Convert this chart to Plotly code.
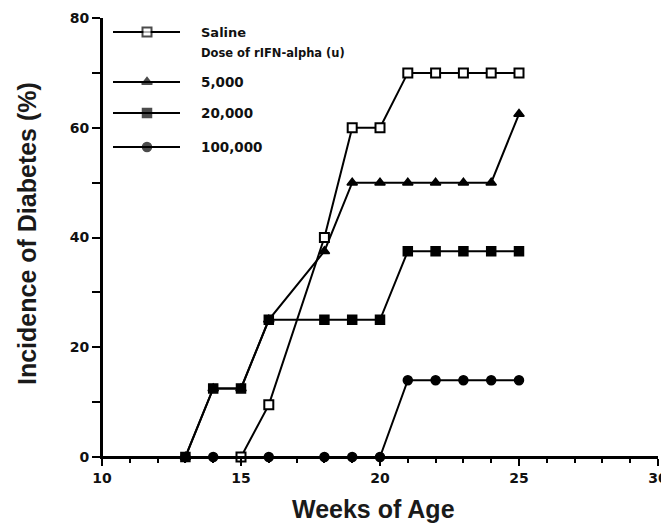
import plotly.graph_objects as go

# Data
weeks_saline = [15, 16, 18, 19, 20, 21, 22, 23, 24, 25]
saline = [0, 9.5, 40, 60, 60, 70, 70, 70, 70, 70]

weeks_dose = [13, 14, 15, 16, 18, 19, 20, 21, 22, 23, 24, 25]
dose_5000 = [0, 12.5, 12.5, 25, 37.5, 50, 50, 50, 50, 50, 50, 62.5]
dose_20000 = [0, 12.5, 12.5, 25, 25, 25, 25, 37.5, 37.5, 37.5, 37.5, 37.5]

weeks_100k = [13, 14, 15, 16, 18, 19, 20, 21, 22, 23, 24, 25]
dose_100000 = [0, 0, 0, 0, 0, 0, 0, 14, 14, 14, 14, 14]

x_ticks = [10, 15, 20, 25, 30]
x_minor = [11, 12, 13, 14, 16, 17, 18, 19, 21, 22, 23, 24, 26, 27, 28, 29]
y_ticks = [0, 20, 40, 60, 80]
y_minor = [10, 30, 50, 70]

legend_labels = ["Saline", "5,000", "20,000", "100,000"]
legend_note = "Dose of rIFN-alpha (u)"
x_title = "Weeks of Age"
y_title = "Incidence of Diabetes (%)"

FONT = "DejaVu Sans"
TFONT = "Liberation Sans"
LW = 2

# page body has an 8px margin: figure drawn offset by OFF on screen
OFF = 8
SW, SH = 669, 523
W, H = SW - OFF, SH - OFF
# plot area in screen pixels
L, R, T, B = 102, 658, 18, 457
X0, X1, Y0, Y1 = 10, 30, 0, 80

def px2x(px):
    return X0 + (px - L) * (X1 - X0) / (R - L)

def px2y(py):
    return Y0 + (B - py) * (Y1 - Y0) / (B - T)

def px2px(px):
    return (px - L) / (R - L)

def py2py(py):
    return (B - py) / (B - T)

fig = go.Figure()

def add(x, y, sym, name, fill="black", lw=1.5):
    fig.add_trace(go.Scatter(
        x=x, y=y, mode="lines+markers", name=name,
        line=dict(color="black", width=LW),
        marker=dict(symbol=sym, size=9, color=fill,
                    line=dict(color="black", width=lw)),
        showlegend=False, cliponaxis=False))

add(weeks_100k, dose_100000, "circle", legend_labels[3])
add(weeks_dose, dose_20000, "square", legend_labels[2])
add(weeks_dose, dose_5000, "triangle-up", legend_labels[1])
add(weeks_saline, saline, "square", legend_labels[0], fill="white", lw=2)

# Manual legend key
leg_y = [32, 82, 113, 147]
leg_sym = ["square", "triangle-up", "square", "circle"]
leg_fill = ["white", "black", "black", "black"]
for yy, sym, fill in zip(leg_y, leg_sym, leg_fill):
    fig.add_trace(go.Scatter(
        x=[px2x(113), px2x(147), px2x(180)], y=[px2y(yy)] * 3, mode="lines+markers",
        line=dict(color="black", width=LW),
        marker=dict(symbol=sym, size=[0, 9, 0], color=fill,
                    line=dict(color="black", width=[0, 2 if fill == "white" else 1.5, 0])),
        showlegend=False, hoverinfo="skip", cliponaxis=False))

texts = [(legend_labels[0], 32, 13), (legend_note, 53, 11.5), (legend_labels[1], 82, 13.5),
         (legend_labels[2], 113, 13.5), (legend_labels[3], 147, 13.5)]
annotations = []
for t, yy, fs in texts:
    annotations.append(dict(x=px2x(199), y=px2y(yy), xref="x", yref="y", text=t,
                            showarrow=False, xanchor="left", yanchor="middle",
                            font=dict(family=FONT, size=fs, color="#111", weight="bold")))

annotations.append(dict(x=px2px(373), y=py2py(509), xref="paper", yref="paper",
                        text=x_title, showarrow=False, xanchor="center", yanchor="middle",
                        font=dict(family=TFONT, size=25, color="#1a1a1a", weight="bold")))
annotations.append(dict(x=px2px(27), y=py2py(234), xref="paper", yref="paper",
                        text=y_title, showarrow=False, xanchor="center", yanchor="middle",
                        textangle=-90,
                        font=dict(family=TFONT, size=25, color="#1a1a1a", weight="bold")))

shapes = [
    dict(type="line", xref="paper", yref="paper", x0=0, x1=0, y0=0, y1=1,
         line=dict(color="black", width=2), layer="above"),
    dict(type="line", xref="paper", yref="paper", x0=0, x1=1, y0=0, y1=0,
         line=dict(color="black", width=2), layer="above"),
]

fig.update_layout(
    width=W, height=H,
    margin=dict(l=L - OFF, r=SW - R, t=T - OFF, b=SH - B),
    paper_bgcolor="white", plot_bgcolor="white",
    annotations=annotations, shapes=shapes,
    xaxis=dict(range=[X0, X1], tickmode="array", tickvals=x_ticks, automargin=False,
               ticks="outside", ticklen=7, tickwidth=1.5, tickcolor="black",
               showline=True, linecolor="black", linewidth=2, showgrid=False,
               zeroline=False,
               minor=dict(tickmode="array", tickvals=x_minor, ticks="outside", ticklen=4,
                          tickwidth=1.5, tickcolor="black", showgrid=False),
               tickfont=dict(family=FONT, size=14, color="#111", weight="bold")),
    yaxis=dict(range=[Y0, Y1], tickmode="array", tickvals=y_ticks, automargin=False,
               ticks="outside", ticklen=8, tickwidth=1.5, tickcolor="black",
               showline=True, linecolor="black", linewidth=2, showgrid=False,
               zeroline=False,
               minor=dict(tickmode="array", tickvals=y_minor, ticks="outside", ticklen=8,
                          tickwidth=1.5, tickcolor="black", showgrid=False),
               tickfont=dict(family=FONT, size=14, color="#111", weight="bold")),
)

fig.write_html("out.html")
